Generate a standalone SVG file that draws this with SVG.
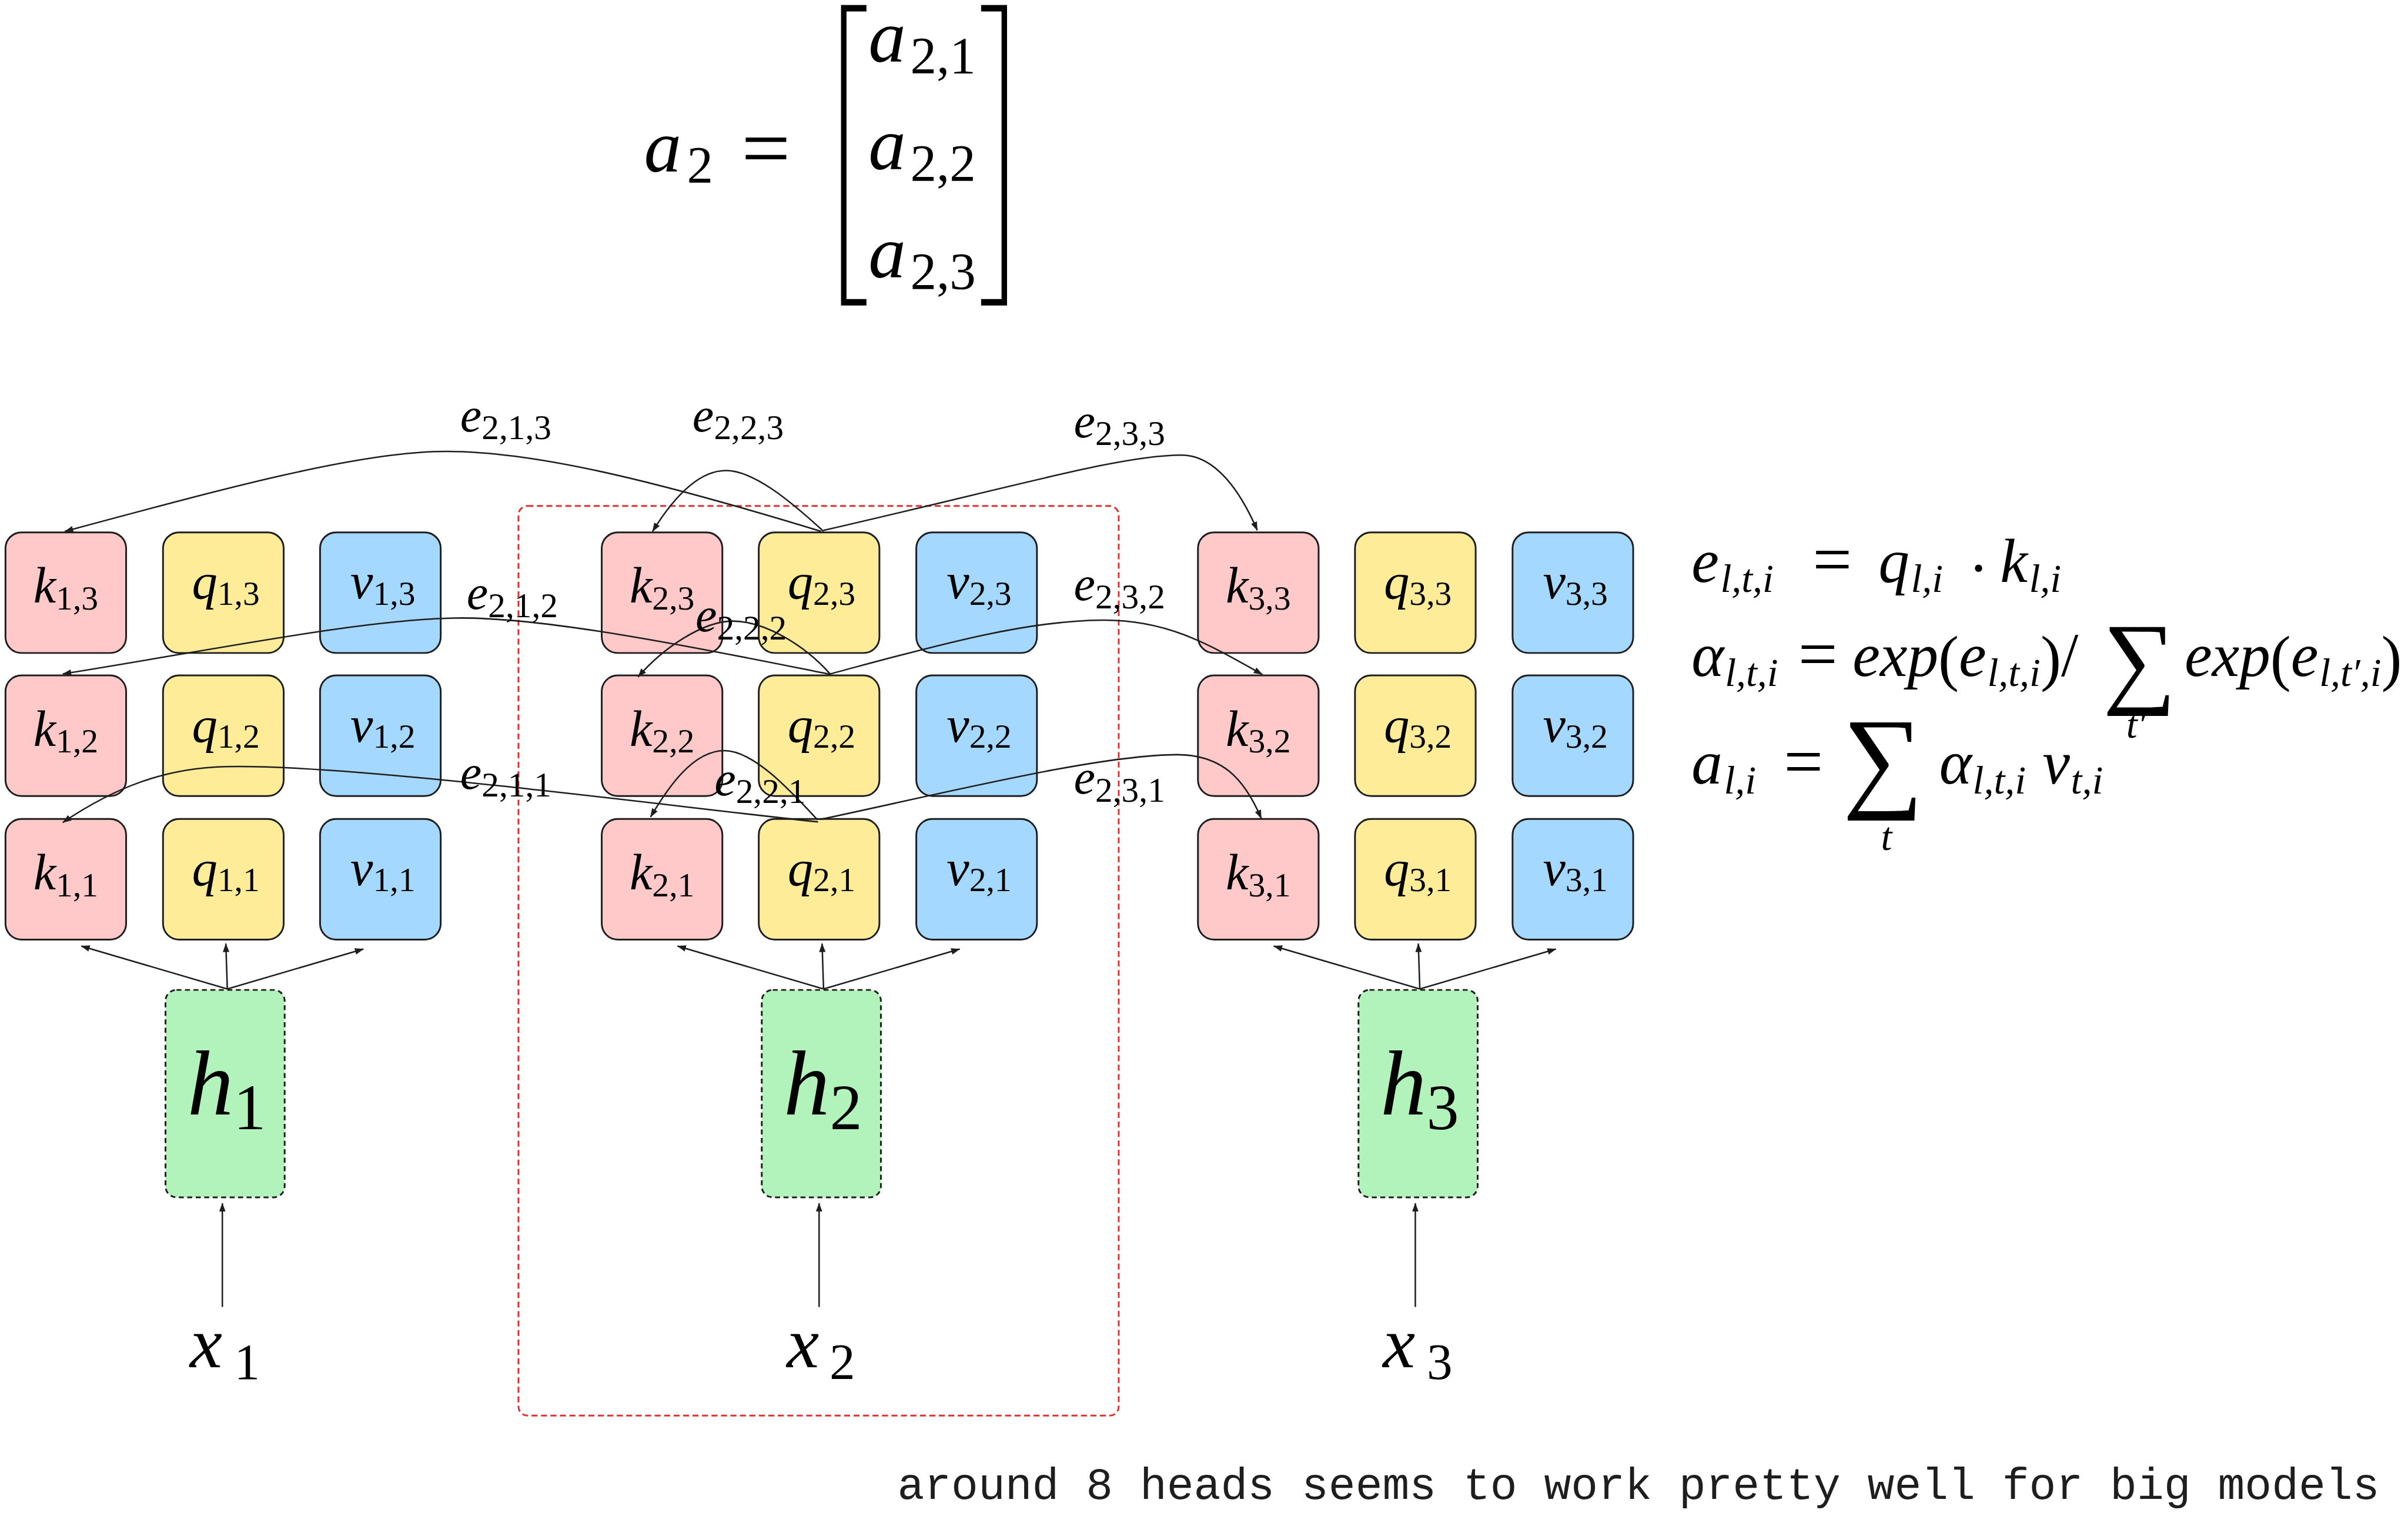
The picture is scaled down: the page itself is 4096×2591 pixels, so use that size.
<svg xmlns="http://www.w3.org/2000/svg" width="4096" height="2591" viewBox="0 0 4096 2591">
<style>
.bx{stroke:#1e1e1e;stroke-width:3.5}
.k{fill:#ffc9c9}.q{fill:#ffec99}.v{fill:#a5d8ff}
.h{fill:#b2f2bb;stroke:#1e1e1e;stroke-width:3.5;stroke-dasharray:10 7}
.grp{fill:none;stroke:#e03131;stroke-width:3.5;stroke-dasharray:12 7}
.c{fill:none;stroke:#1e1e1e;stroke-width:3;marker-end:url(#ah)}
.m{font-family:"Liberation Serif","Times New Roman",serif;font-style:italic;fill:#000}
.n{font-style:normal}
.bl{font-size:102px}
.s{font-size:68px}
.el{font-size:97px}
.es{font-size:70px}
.f{font-size:124px}
.fs{font-size:80px}
.note{font-family:"Liberation Mono","Courier New",monospace;font-size:90px;fill:#1e1e1e}
</style>
<defs>
<marker id="ah" markerUnits="userSpaceOnUse" viewBox="0 0 18 13" markerWidth="18" markerHeight="13" refX="17" refY="6.5" orient="auto">
<path d="M0,0 L18,6.5 L0,13 Z" fill="#1e1e1e"/>
</marker>
</defs>
<rect width="4096" height="2591" fill="#fff"/>
<g transform="scale(0.848)">
<g id="formula-a2">
<text class="m"><tspan x="1292" y="344" font-size="150">a</tspan><tspan class="n" x="1378" y="366" font-size="105">2</tspan><tspan class="n" x="1487" y="356" font-size="175">=</tspan></text>
<path d="M1687,10 H1738 V23 H1698 V600 H1738 V613 H1687 Z" fill="#000"/>
<path d="M2020,10 H1968 V23 H2009 V600 H1968 V613 H2020 Z" fill="#000"/>
<text class="m"><tspan x="1742" y="124" font-size="150">a</tspan><tspan class="n" x="1826" y="146" font-size="105">2,1</tspan></text>
<text class="m"><tspan x="1742" y="340" font-size="150">a</tspan><tspan class="n" x="1826" y="362" font-size="105">2,2</tspan></text>
<text class="m"><tspan x="1742" y="557" font-size="150">a</tspan><tspan class="n" x="1826" y="579" font-size="105">2,3</tspan></text>
</g>
<g id="formulas">
<text class="m f"><tspan x="3393" y="1167">e</tspan><tspan class="fs" dx="3" y="1187">l,t,i</tspan><tspan class="n" x="3636" y="1170" font-size="140">=</tspan><tspan x="3768" y="1167">q</tspan><tspan class="fs" dx="3" y="1187">l,i</tspan><tspan class="n" x="3948" y="1182">·</tspan><tspan x="4012" y="1167">k</tspan><tspan class="fs" dx="3" y="1187">l,i</tspan></text>
<text class="m f"><tspan x="3393" y="1356">α</tspan><tspan class="fs" dx="2" y="1376">l,t,i</tspan><tspan class="n" x="3607" y="1360" font-size="140">=</tspan><tspan x="3716" y="1356">exp</tspan><tspan class="n" y="1362">(</tspan><tspan y="1356">e</tspan><tspan class="fs" dx="2" y="1376">l,t,i</tspan><tspan class="n" y="1362">)</tspan><tspan class="n" y="1356">/</tspan></text>
<text class="m n" x="4218" y="1393" font-size="206">∑</text>
<text class="m f"><tspan x="4382" y="1356">exp</tspan><tspan class="n" y="1362">(</tspan><tspan y="1356">e</tspan><tspan class="fs" dx="2" y="1376">l,t′,i</tspan><tspan class="n" y="1362">)</tspan></text>
<text class="m fs" x="4265" y="1480">t′</text>
<text class="m f"><tspan x="3393" y="1572">a</tspan><tspan class="fs" dx="3" y="1592">l,i</tspan><tspan class="n" x="3578" y="1576" font-size="140">=</tspan></text>
<text class="m n" x="3696" y="1598" font-size="227">∑</text>
<text class="m f"><tspan x="3890" y="1572">α</tspan><tspan class="fs" dx="2" y="1592">l,t,i</tspan><tspan x="4097" y="1572">v</tspan><tspan class="fs" dx="2" y="1592">t,i</tspan></text>
<text class="m fs" x="3773" y="1705">t</text>
</g>
<g id="head-2-frame"><rect class="grp" x="1040" y="1015" width="1204" height="1825" rx="18"/></g>

<g id="k13"><rect class="bx k" x="11" y="1068" width="242" height="242" rx="32"/><text class="m bl" x="132" y="1209" text-anchor="middle">k<tspan class="s n" dy="14">1,3</tspan></text></g>
<g id="q13"><rect class="bx q" x="327" y="1068" width="242" height="242" rx="32"/><text class="m bl" x="453" y="1201" text-anchor="middle">q<tspan class="s n" dy="12">1,3</tspan></text></g>
<g id="v13"><rect class="bx v" x="642" y="1068" width="242" height="242" rx="32"/><text class="m bl" x="768" y="1201" text-anchor="middle">v<tspan class="s n" dy="12">1,3</tspan></text></g>
<g id="k12"><rect class="bx k" x="11" y="1355" width="242" height="242" rx="32"/><text class="m bl" x="132" y="1496" text-anchor="middle">k<tspan class="s n" dy="14">1,2</tspan></text></g>
<g id="q12"><rect class="bx q" x="327" y="1355" width="242" height="242" rx="32"/><text class="m bl" x="453" y="1488" text-anchor="middle">q<tspan class="s n" dy="12">1,2</tspan></text></g>
<g id="v12"><rect class="bx v" x="642" y="1355" width="242" height="242" rx="32"/><text class="m bl" x="768" y="1488" text-anchor="middle">v<tspan class="s n" dy="12">1,2</tspan></text></g>
<g id="k11"><rect class="bx k" x="11" y="1643" width="242" height="242" rx="32"/><text class="m bl" x="132" y="1784" text-anchor="middle">k<tspan class="s n" dy="14">1,1</tspan></text></g>
<g id="q11"><rect class="bx q" x="327" y="1643" width="242" height="242" rx="32"/><text class="m bl" x="453" y="1776" text-anchor="middle">q<tspan class="s n" dy="12">1,1</tspan></text></g>
<g id="v11"><rect class="bx v" x="642" y="1643" width="242" height="242" rx="32"/><text class="m bl" x="768" y="1776" text-anchor="middle">v<tspan class="s n" dy="12">1,1</tspan></text></g>

<g id="k23"><rect class="bx k" x="1207" y="1068" width="242" height="242" rx="32"/><text class="m bl" x="1328" y="1209" text-anchor="middle">k<tspan class="s n" dy="14">2,3</tspan></text></g>
<g id="q23"><rect class="bx q" x="1522" y="1068" width="242" height="242" rx="32"/><text class="m bl" x="1648" y="1201" text-anchor="middle">q<tspan class="s n" dy="12">2,3</tspan></text></g>
<g id="v23"><rect class="bx v" x="1838" y="1068" width="242" height="242" rx="32"/><text class="m bl" x="1964" y="1201" text-anchor="middle">v<tspan class="s n" dy="12">2,3</tspan></text></g>
<g id="k22"><rect class="bx k" x="1207" y="1355" width="242" height="242" rx="32"/><text class="m bl" x="1328" y="1496" text-anchor="middle">k<tspan class="s n" dy="14">2,2</tspan></text></g>
<g id="q22"><rect class="bx q" x="1522" y="1355" width="242" height="242" rx="32"/><text class="m bl" x="1648" y="1488" text-anchor="middle">q<tspan class="s n" dy="12">2,2</tspan></text></g>
<g id="v22"><rect class="bx v" x="1838" y="1355" width="242" height="242" rx="32"/><text class="m bl" x="1964" y="1488" text-anchor="middle">v<tspan class="s n" dy="12">2,2</tspan></text></g>
<g id="k21"><rect class="bx k" x="1207" y="1643" width="242" height="242" rx="32"/><text class="m bl" x="1328" y="1784" text-anchor="middle">k<tspan class="s n" dy="14">2,1</tspan></text></g>
<g id="q21"><rect class="bx q" x="1522" y="1643" width="242" height="242" rx="32"/><text class="m bl" x="1648" y="1776" text-anchor="middle">q<tspan class="s n" dy="12">2,1</tspan></text></g>
<g id="v21"><rect class="bx v" x="1838" y="1643" width="242" height="242" rx="32"/><text class="m bl" x="1964" y="1776" text-anchor="middle">v<tspan class="s n" dy="12">2,1</tspan></text></g>

<g id="k33"><rect class="bx k" x="2403" y="1068" width="242" height="242" rx="32"/><text class="m bl" x="2524" y="1209" text-anchor="middle">k<tspan class="s n" dy="14">3,3</tspan></text></g>
<g id="q33"><rect class="bx q" x="2718" y="1068" width="242" height="242" rx="32"/><text class="m bl" x="2844" y="1201" text-anchor="middle">q<tspan class="s n" dy="12">3,3</tspan></text></g>
<g id="v33"><rect class="bx v" x="3034" y="1068" width="242" height="242" rx="32"/><text class="m bl" x="3160" y="1201" text-anchor="middle">v<tspan class="s n" dy="12">3,3</tspan></text></g>
<g id="k32"><rect class="bx k" x="2403" y="1355" width="242" height="242" rx="32"/><text class="m bl" x="2524" y="1496" text-anchor="middle">k<tspan class="s n" dy="14">3,2</tspan></text></g>
<g id="q32"><rect class="bx q" x="2718" y="1355" width="242" height="242" rx="32"/><text class="m bl" x="2844" y="1488" text-anchor="middle">q<tspan class="s n" dy="12">3,2</tspan></text></g>
<g id="v32"><rect class="bx v" x="3034" y="1355" width="242" height="242" rx="32"/><text class="m bl" x="3160" y="1488" text-anchor="middle">v<tspan class="s n" dy="12">3,2</tspan></text></g>
<g id="k31"><rect class="bx k" x="2403" y="1643" width="242" height="242" rx="32"/><text class="m bl" x="2524" y="1784" text-anchor="middle">k<tspan class="s n" dy="14">3,1</tspan></text></g>
<g id="q31"><rect class="bx q" x="2718" y="1643" width="242" height="242" rx="32"/><text class="m bl" x="2844" y="1776" text-anchor="middle">q<tspan class="s n" dy="12">3,1</tspan></text></g>
<g id="v31"><rect class="bx v" x="3034" y="1643" width="242" height="242" rx="32"/><text class="m bl" x="3160" y="1776" text-anchor="middle">v<tspan class="s n" dy="12">3,1</tspan></text></g>

<g id="h1"><rect class="h" x="332" y="1986" width="239" height="416" rx="22"/><text class="m" x="376" y="2236" font-size="185">h<tspan class="n" dy="29" font-size="130">1</tspan></text></g>
<g id="h2"><rect class="h" x="1528" y="1986" width="239" height="416" rx="22"/><text class="m" x="1572" y="2236" font-size="185">h<tspan class="n" dy="29" font-size="130">2</tspan></text></g>
<g id="h3"><rect class="h" x="2725" y="1986" width="239" height="416" rx="22"/><text class="m" x="2769" y="2236" font-size="185">h<tspan class="n" dy="29" font-size="130">3</tspan></text></g>

<g id="x1"><text class="m"><tspan x="381" y="2743" font-size="146">x</tspan><tspan class="n" x="470" y="2766" font-size="103">1</tspan></text></g>
<g id="x2"><text class="m"><tspan x="1578" y="2743" font-size="146">x</tspan><tspan class="n" x="1664" y="2766" font-size="103">2</tspan></text></g>
<g id="x3"><text class="m"><tspan x="2774" y="2743" font-size="146">x</tspan><tspan class="n" x="2862" y="2766" font-size="103">3</tspan></text></g>

<g id="connectors">
<path class="c" d="M446,2622 L446,2414"/>
<path class="c" d="M1643,2622 L1643,2414"/>
<path class="c" d="M2839,2622 L2839,2414"/>
<path class="c" d="M456,1984 L163,1898"/>
<path class="c" d="M456,1984 L453,1893"/>
<path class="c" d="M456,1984 L729,1904"/>
<path class="c" d="M1652,1984 L1359,1898"/>
<path class="c" d="M1652,1984 L1649,1893"/>
<path class="c" d="M1652,1984 L1925,1904"/>
<path class="c" d="M2848,1984 L2555,1898"/>
<path class="c" d="M2848,1984 L2845,1893"/>
<path class="c" d="M2848,1984 L3121,1904"/>
<path class="c" d="M1647,1066 C1300,960 1050,900 872,906 C700,912 450,980 130,1066"/>
<path class="c" d="M1652,1066 C1580,1000 1510,944 1456,944 C1400,944 1350,1000 1309,1066"/>
<path class="c" d="M1652,1064 C2052,972 2250,913 2370,913 C2440,913 2490,990 2522,1064"/>
<path class="c" d="M1666,1353 C1450,1310 1100,1236 911,1240 C720,1244 450,1300 126,1352"/>
<path class="c" d="M1666,1353 C1610,1290 1530,1246 1470,1246 C1410,1246 1330,1300 1280,1358"/>
<path class="c" d="M1665,1352 C1860,1300 2050,1245 2211,1244 C2340,1243 2420,1290 2532,1353"/>
<path class="c" d="M1641,1649 C1300,1612 700,1532 451,1538 C330,1541 230,1580 126,1650"/>
<path class="c" d="M1640,1645 C1580,1580 1510,1506 1453,1506 C1390,1506 1340,1580 1305,1639"/>
<path class="c" d="M1645,1644 C1900,1590 2200,1515 2360,1514 C2450,1514 2495,1560 2530,1642"/>
<text class="m el" x="923" y="865">e<tspan class="es n" dy="16">2,1,3</tspan></text>
<text class="m el" x="1389" y="865">e<tspan class="es n" dy="16">2,2,3</tspan></text>
<text class="m el" x="2154" y="877">e<tspan class="es n" dy="16">2,3,3</tspan></text>
<text class="m el" x="936" y="1222">e<tspan class="es n" dy="16">2,1,2</tspan></text>
<text class="m el" x="1395" y="1267">e<tspan class="es n" dy="16">2,2,2</tspan></text>
<text class="m el" x="2154" y="1204">e<tspan class="es n" dy="16">2,3,2</tspan></text>
<text class="m el" x="923" y="1582">e<tspan class="es n" dy="16">2,1,1</tspan></text>
<text class="m el" x="1433" y="1595">e<tspan class="es n" dy="16">2,2,1</tspan></text>
<text class="m el" x="2154" y="1592">e<tspan class="es n" dy="16">2,3,1</tspan></text>
</g>
<text class="note" x="1800" y="3007" textLength="2973" lengthAdjust="spacingAndGlyphs">around 8 heads seems to work pretty well for big models</text>
</g>
</svg>
